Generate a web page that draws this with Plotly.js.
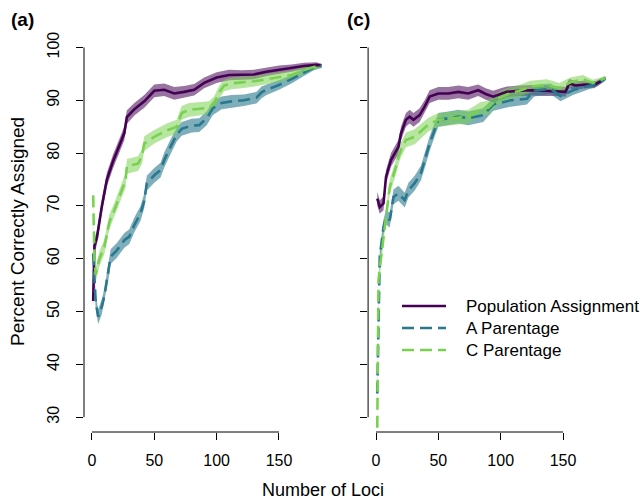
<!DOCTYPE html>
<html><head><meta charset="utf-8">
<script src="https://cdn.plot.ly/plotly-3.0.1.min.js"></script>
<style>html,body{margin:0;padding:0;background:#fff}#chart{width:644px;height:500px}</style>
</head><body><div id="chart"></div>
<script>
// ---------- Data ----------
const seriesNames = ['Population Assignment', 'A Parentage', 'C Parentage'];
const xTicks = [0, 50, 100, 150];
const yTicks = [30, 40, 50, 60, 70, 80, 90, 100];

// Panel (a) - Population Assignment
const a_pop_loci = [1,2,4,8,12,17,23,26,28,34,42,50,58,66,74,82,90,100,110,120,130,140,150,160,170,180,184];
const a_pop_pct  = [52,62.5,64,70,75,78.5,82,83.8,86.8,88.3,89.8,91.8,92,91.3,91.6,92,93.3,94.3,94.8,94.8,94.9,95.4,95.8,96.1,96.5,96.7,96.6];
const a_pop_se   = [1.3,1.3,1.3,1.3,1.3,1.3,1.3,1.3,1.3,1.2,1.2,1.2,1.2,1.2,1.1,1.1,1.0,1.0,1.0,0.9,0.9,0.8,0.8,0.7,0.6,0.5,0.3];
// Panel (a) - A Parentage
const a_A_loci = [1,3,5,8,10,14,15,20,26,30,34,39,42,44,50,55,58,63,68,72,80,86,92,97,104,112,122,132,136,140,150,160,170,178,184];
const a_A_pct  = [61,52,49,51,53,58.5,60.4,61.6,63.5,64.2,66.4,68.6,71,74.3,75.8,76.8,78.7,81.2,83.5,84.6,85.2,85.3,86.6,88.5,89.5,89.8,90,90.5,91.5,92,92.9,94,95.3,96.2,96.5];
const a_A_se   = [1.4,1.4,1.4,1.4,1.4,1.4,1.4,1.4,1.4,1.4,1.4,1.4,1.4,1.4,1.4,1.4,1.4,1.4,1.3,1.3,1.3,1.3,1.3,1.3,1.2,1.2,1.1,1.1,1.1,1.0,0.9,0.8,0.7,0.5,0.4];
// Panel (a) - C Parentage
const a_C_loci = [1,2,3,6,10,14,18,23,27,28,33,37,40,42,50,60,68,72,78,86,94,98,102,106,112,120,130,140,150,160,170,178,184];
const a_C_pct  = [72,60,57,60,62.3,67,69.2,72.4,74.9,77.5,77.8,78,79.3,81.8,83.1,84.3,85,87.6,88.2,88.4,88.6,89.5,91.5,92.8,93.2,93.4,93.6,94,94.4,94.8,95.7,96.3,96.5];
const a_C_se   = [1.4,1.4,1.4,1.4,1.4,1.4,1.4,1.4,1.4,1.4,1.4,1.4,1.4,1.4,1.3,1.3,1.3,1.3,1.3,1.3,1.2,1.2,1.2,1.1,1.1,1.1,1.0,1.0,0.9,0.8,0.7,0.5,0.4];

// Panel (c) - Population Assignment
const c_pop_loci = [1,3,6,8,12,18,20,24,27,30,35,39,43,50,58,66,74,82,88,94,100,105,115,125,135,145,152,155,160,168,175,180,184];
const c_pop_pct  = [71.4,69.8,70.5,75.5,78.7,81.2,83.7,86.3,86.9,86.3,87.2,88.8,90.7,91.3,91.3,91.6,91.3,91.9,91.2,90.7,91.2,91.6,91.8,91.9,91.8,91.7,91.6,93.2,92.8,93.0,92.9,93.6,94.2];
const c_pop_se   = [1.3,1.3,1.3,1.3,1.3,1.3,1.3,1.3,1.3,1.3,1.3,1.2,1.2,1.2,1.2,1.2,1.2,1.1,1.1,1.1,1.1,1.0,1.0,1.0,1.0,0.9,0.9,0.9,0.8,0.7,0.6,0.5,0.3];
// Panel (c) - A Parentage
const c_A_loci = [1,2,3,6,8,11,14,18,23,26,31,36,40,43,47,50,58,66,74,86,94,102,108,121,127,140,148,158,169,178,184];
const c_A_pct  = [34.5,52,60.4,66,67.9,67.3,71.7,72.4,71.1,73,74.3,76.2,79.3,81.8,84.4,86.3,86.6,86.9,86.6,87.2,89.2,89.6,90,90.3,91.8,92.2,90.8,91.9,92.6,93.2,94.1];
const c_A_se   = [1.4,1.4,1.4,1.4,1.4,1.4,1.4,1.4,1.4,1.4,1.4,1.4,1.4,1.4,1.3,1.3,1.3,1.3,1.3,1.3,1.2,1.2,1.2,1.1,1.1,1.0,1.0,0.9,0.7,0.5,0.4];
// Panel (c) - C Parentage
const c_C_loci = [1,2,3,5,7,8,11,16,18,20,24,31,42,50,60,74,84,90,95,100,106,115,124,137,147,156,166,174,184];
const c_C_pct  = [28,56,58.2,62,66.7,68.6,73.6,77.4,79.3,80.6,82.5,83.1,85.4,86.3,86.6,86.9,88.4,88.6,89.8,90.6,91.2,91.8,92.6,92.9,92.3,93.4,94,93.3,94.2];
const c_C_se   = [1.4,1.4,1.4,1.4,1.4,1.4,1.4,1.4,1.4,1.4,1.4,1.4,1.3,1.3,1.3,1.3,1.3,1.3,1.2,1.2,1.2,1.1,1.1,1.1,1.0,0.9,0.8,0.6,0.4];

// ---------- Styles ----------
const lineCol = ['#440154', '#2A788E', '#7AD151'];
const bandCol = ['rgba(68,1,84,0.55)', 'rgba(42,120,142,0.6)', 'rgba(122,209,81,0.55)'];
const dashes = ['solid', '12px,6px', '12px,6px'];
const FONT = 'Liberation Sans, Arial, Helvetica, sans-serif';

function bandTrace(loci, pct, se, idx, xa, ya) {
  const up = pct.map((v, i) => v + se[i]);
  const lo = pct.map((v, i) => v - se[i]);
  return {
    x: loci.concat(loci.slice().reverse()),
    y: up.concat(lo.slice().reverse()),
    xaxis: xa, yaxis: ya, type: 'scatter', mode: 'lines',
    fill: 'toself', fillcolor: bandCol[idx], line: {width: 0, color: bandCol[idx]},
    hoverinfo: 'skip', showlegend: false
  };
}
function lineTrace(loci, pct, idx, xa, ya) {
  return {
    x: loci, y: pct, xaxis: xa, yaxis: ya, type: 'scatter', mode: 'lines',
    name: seriesNames[idx], line: {color: lineCol[idx], width: 2.6, dash: dashes[idx]},
    showlegend: false
  };
}

const panels = [
  {xa: 'x', ya: 'y', s: [[a_pop_loci, a_pop_pct, a_pop_se], [a_A_loci, a_A_pct, a_A_se], [a_C_loci, a_C_pct, a_C_se]]},
  {xa: 'x2', ya: 'y2', s: [[c_pop_loci, c_pop_pct, c_pop_se], [c_A_loci, c_A_pct, c_A_se], [c_C_loci, c_C_pct, c_C_se]]}
];
const traces = [];
panels.forEach(p => {
  p.s.forEach((d, i) => traces.push(bandTrace(d[0], d[1], d[2], i, p.xa, p.ya)));
  p.s.forEach((d, i) => traces.push(lineTrace(d[0], d[1], i, p.xa, p.ya)));
});

const W = 644, H = 500;
const px = v => v / W, py = v => 1 - v / H;

function xAxis(domain, anchor) {
  return {domain: domain, anchor: anchor, range: [-6.36, 192.36], tickvals: xTicks, ticktext: xTicks.map(String),
    ticks: 'outside', ticklen: 7, tickwidth: 1, tickcolor: '#000', showgrid: false, zeroline: false, showline: false,
    tickfont: {family: FONT, size: 16, color: '#000'}, ticklabelstandoff: 7, fixedrange: true};
}
function yAxis(domain, anchor, labels) {
  return {domain: domain, anchor: anchor, range: [27.2, 102.8], tickvals: yTicks, ticktext: yTicks.map(String),
    showticklabels: labels, tickangle: -90,
    ticks: 'outside', ticklen: 7, tickwidth: 1, tickcolor: '#000', showgrid: false, zeroline: false, showline: false,
    tickfont: {family: FONT, size: 16, color: '#000'}, ticklabelstandoff: 11, fixedrange: true};
}

const shapes = [];
[['x', 'y'], ['x2', 'y2']].forEach(([xa, ya]) => {
  shapes.push({type: 'line', xref: xa + ' domain', yref: ya, x0: 0, x1: 0, y0: yTicks[0], y1: yTicks[yTicks.length - 1], line: {color: '#000', width: 1}});
  shapes.push({type: 'line', xref: xa, yref: ya + ' domain', x0: xTicks[0], x1: xTicks[xTicks.length - 1], y0: 0, y1: 0, line: {color: '#000', width: 1}});
});
// legend (drawn in panel c)
const legRows = [306, 328, 350];
const annotations = [];
seriesNames.forEach((n, i) => {
  shapes.push({type: 'line', xref: 'paper', yref: 'paper', x0: px(402), x1: px(446), y0: py(legRows[i]), y1: py(legRows[i]),
    line: {color: lineCol[i], width: 2.6, dash: dashes[i]}});
  annotations.push({xref: 'paper', yref: 'paper', x: px(464), y: py(legRows[i]), xanchor: 'left', yanchor: 'middle',
    text: n, showarrow: false, font: {family: FONT, size: 17, color: '#000'}});
});
annotations.push({xref: 'paper', yref: 'paper', x: px(22), y: py(19), text: '<b>(a)</b>', showarrow: false,
  xanchor: 'center', yanchor: 'middle', font: {family: FONT, size: 19, color: '#000'}});
annotations.push({xref: 'paper', yref: 'paper', x: px(358), y: py(19), text: '<b>(c)</b>', showarrow: false,
  xanchor: 'center', yanchor: 'middle', font: {family: FONT, size: 19, color: '#000'}});
annotations.push({xref: 'paper', yref: 'paper', x: px(323), y: py(490), text: 'Number of Loci', showarrow: false,
  xanchor: 'center', yanchor: 'middle', font: {family: FONT, size: 18, color: '#000'}});
annotations.push({xref: 'paper', yref: 'paper', x: px(18), y: py(232), text: 'Percent Correctly Assigned', showarrow: false,
  textangle: -90, xanchor: 'center', yanchor: 'middle', font: {family: FONT, size: 19, color: '#000'}});

const layout = {
  width: W, height: H, margin: {l: 0, r: 0, t: 0, b: 0}, paper_bgcolor: '#fff', plot_bgcolor: '#fff',
  showlegend: false, font: {family: FONT},
  xaxis: xAxis([84 / W, 331.8 / W], 'y'),
  yaxis: yAxis([1 - 432 / H, 1 - 32.7 / H], 'x', true),
  xaxis2: xAxis([368.1 / W, 615.8 / W], 'y2'),
  yaxis2: yAxis([1 - 432 / H, 1 - 32.7 / H], 'x2', false),
  shapes: shapes, annotations: annotations
};
Plotly.newPlot('chart', traces, layout, {displayModeBar: false, staticPlot: true});
</script></body></html>
